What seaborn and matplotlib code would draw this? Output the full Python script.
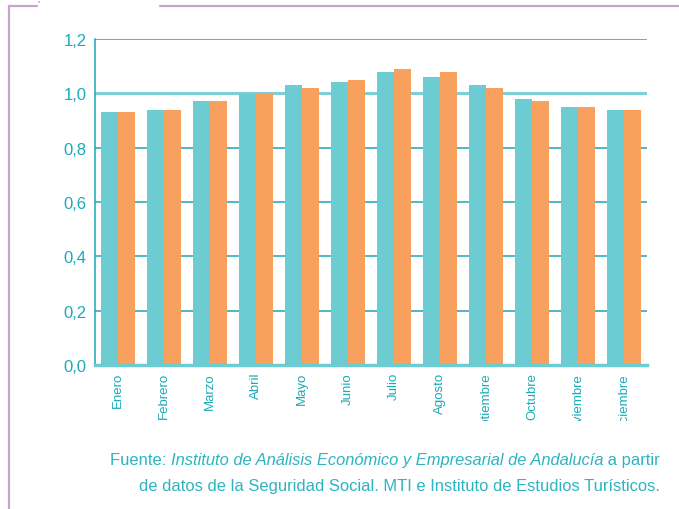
import seaborn as sns
import matplotlib.pyplot as plt
import pandas as pd
from matplotlib.lines import Line2D
from matplotlib.transforms import Bbox, TransformedBbox

meses = ['Enero', 'Febrero', 'Marzo', 'Abril', 'Mayo', 'Junio', 'Julio',
         'Agosto', 'Septiembre', 'Octubre', 'Noviembre', 'Diciembre']
serie_1 = [0.93, 0.94, 0.97, 1.00, 1.03, 1.04, 1.08, 1.06, 1.03, 0.98, 0.95, 0.94]
serie_2 = [0.93, 0.94, 0.97, 1.00, 1.02, 1.05, 1.09, 1.08, 1.02, 0.97, 0.95, 0.94]
y_ticks = [0.0, 0.2, 0.4, 0.6, 0.8, 1.0, 1.2]

TEAL = '#6DCBD2'
ORANGE = '#F8A15E'
TEXT = '#1AAAB8'
CAPTION = '#2DB4C1'
GRID = '#1BA5B5'
PURPLE = '#C7A3CE'

df = pd.DataFrame({'mes': meses * 2,
                   'valor': serie_1 + serie_2,
                   'serie': ['serie_1'] * 12 + ['serie_2'] * 12})

sns.set_style('white')
plt.rcParams['font.family'] = ['Liberation Sans', 'DejaVu Sans']

fig = plt.figure(figsize=(6.79, 5.10), dpi=100)
ax = fig.add_axes([95 / 679, 144 / 510, 552 / 679, 326 / 510])

sns.barplot(data=df, x='mes', y='valor', hue='serie', order=meses,
            palette=[TEAL, ORANGE], width=0.76, gap=0, saturation=1,
            linewidth=0, legend=False, ax=ax, zorder=3)

ax.set_ylim(0, 1.2)
ax.set_xlim(-0.5, len(meses) - 0.5)
ax.set_yticks(y_ticks)
ax.set_yticklabels([f'{t:.1f}'.replace('.', ',') for t in y_ticks])
ax.set_xlabel('')
ax.set_ylabel('')

ax.grid(axis='y', color=GRID, lw=1.1, zorder=1)
for t, gl in zip(y_ticks, ax.get_ygridlines()):
    if abs(t - 1.0) < 1e-9:
        gl.set_color('#7ECFD6')
        gl.set_linewidth(2.2)
    if t == 0.0:
        gl.set_visible(False)

for s in ['top', 'right']:
    ax.spines[s].set_visible(False)
ax.spines['left'].set_color(GRID)
ax.spines['left'].set_linewidth(1.1)
ax.spines['bottom'].set_color(TEAL)
ax.spines['bottom'].set_linewidth(2.5)
ax.spines['bottom'].set_zorder(4)

ax.tick_params(axis='y', length=0, pad=6, labelsize=12, labelcolor=TEXT)
ax.tick_params(axis='x', length=0, pad=5, labelsize=9.5, labelcolor=TEXT,
               labelrotation=90)

# labels are cut off at the bottom in the original layout
clip = TransformedBbox(Bbox.from_extents(0, 88 / 510, 1, 1), fig.transFigure)
for lab in ax.get_xticklabels():
    lab.set_clip_box(clip)
    lab.set_clip_on(True)

# source note, first line built from normal + italic pieces
fs = 11.85
t1 = fig.text(110 / 679, 1 - 465 / 510, 'Fuente: ', ha='left', va='baseline',
              color=CAPTION, fontsize=fs)
t2 = ax.annotate('Instituto de Análisis Económico y Empresarial de Andalucía',
                 xy=(1, 0), xycoords=t1, ha='left', va='bottom',
                 color=CAPTION, fontsize=fs, style='italic',
                 annotation_clip=False)
ax.annotate(' a partir', xy=(1, 0), xycoords=t2, ha='left', va='bottom',
            color=CAPTION, fontsize=fs, annotation_clip=False)
fig.text(660 / 679, 1 - 491 / 510,
         'de datos de la Seguridad Social. MTI e Instituto de Estudios Turísticos.',
         ha='right', va='baseline', color=CAPTION, fontsize=fs)

# decorative frame lines
fig.add_artist(Line2D([9 / 679, 9 / 679], [0, 1 - 7 / 510],
                      color=PURPLE, lw=1.6))
fig.add_artist(Line2D([9 / 679, 37 / 679], [1 - 7 / 510, 1 - 7 / 510],
                      color=PURPLE, lw=1.6))
fig.add_artist(Line2D([160 / 679, 1], [1 - 7 / 510, 1 - 7 / 510],
                      color=PURPLE, lw=1.6))
fig.add_artist(Line2D([39 / 679, 39 / 679], [1 - 2 / 510, 1 - 6 / 510],
                      color=PURPLE, lw=1.2, ls=(0, (1, 1.5))))

fig.savefig('out.png', dpi=100)
